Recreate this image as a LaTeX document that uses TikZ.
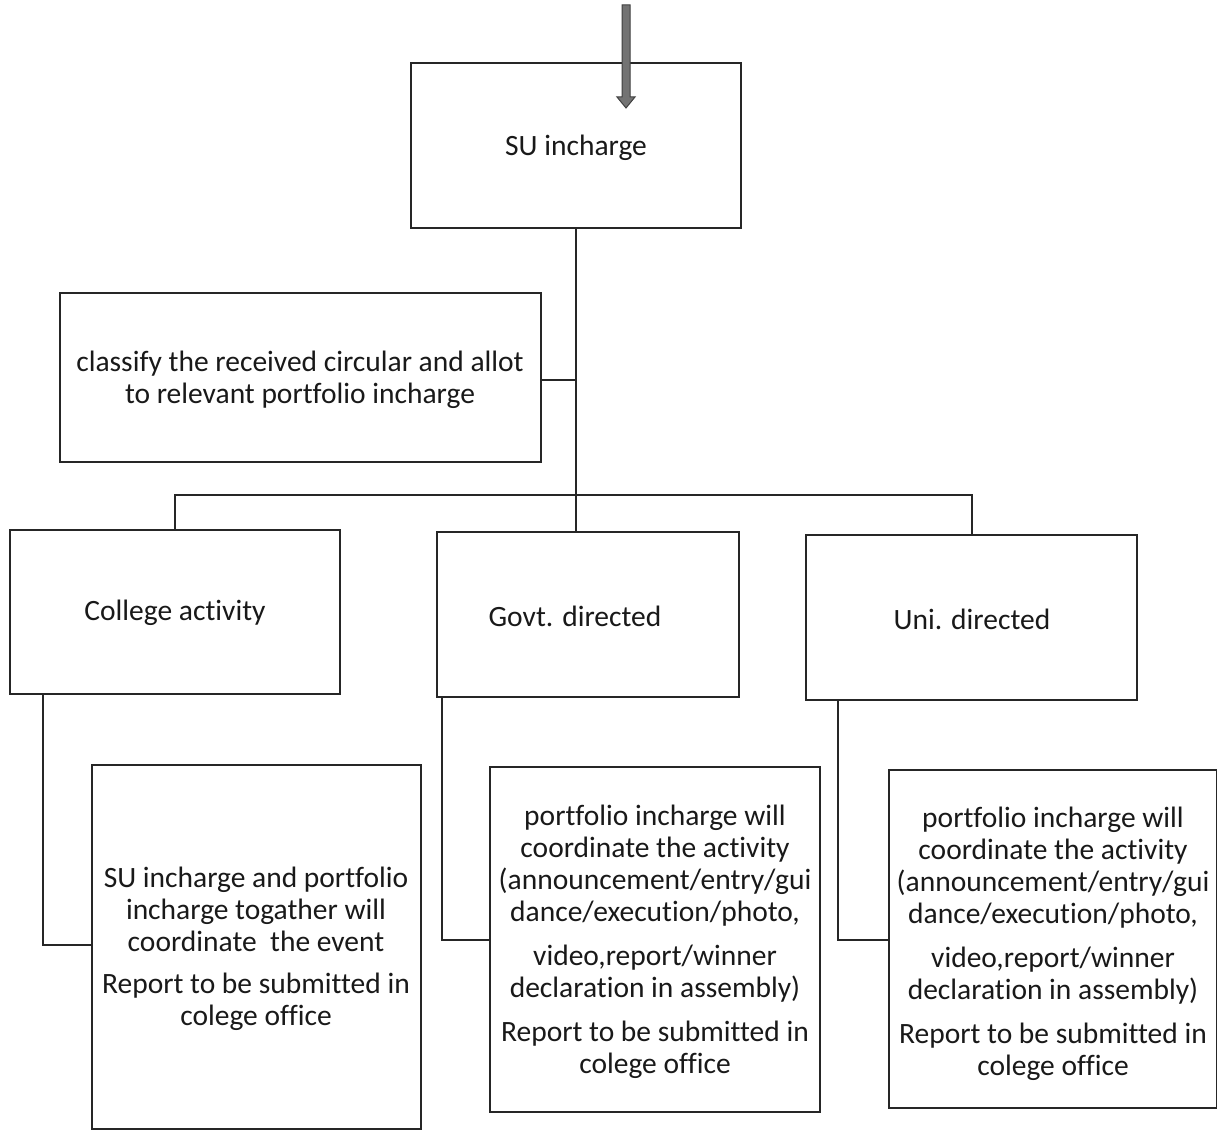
\documentclass[tikz,border=0pt]{standalone}
\usepackage{fontspec}
\setmainfont[Ligatures={NoCommon,NoContextual},RawFeature={-liga;-clig;-dlig;-calt}]{Carlito}
\usetikzlibrary{positioning}
\begin{document}
\begin{tikzpicture}[x=1pt,y=-1pt,
  box/.style={draw=black!85,line width=1.6pt,inner sep=0pt},
  conn/.style={draw=black!85,line width=1.6pt},
  lbl/.style={align=center,font=\fontsize{29.5}{32}\selectfont,text=black!90}]
\useasboundingbox[fill=white] (0,0) rectangle (1217,1129);
% boxes
\draw[box] (411,63) rectangle (741,228);
\coordinate (su) at (576,228);
\node[lbl] (sut) at (576,148) {SU incharge};
\draw[box] (60,293) rectangle (541,462);
\coordinate (clr) at (541,380);
\node[lbl] (cl) at (300,380) {classify the received circular and allot\\to relevant portfolio incharge};
\draw[box] (10,530) rectangle (340,694);
\node[lbl] (ca) at (175,613) {College activity};
\draw[box] (437,532) rectangle (739,697);
\node[lbl] (gd) at (575,616) {Govt. directed};
\draw[box] (806,535) rectangle (1137,700);
\node[lbl] (ud) at (972,619) {Uni. directed};
\draw[box] (92,765) rectangle (421,1129);
\node[lbl] (t1) at (256,949) {SU incharge and portfolio\\incharge togather will\\coordinate\ \ the event\\[10pt]Report to be submitted in\\colege office};
\draw[box] (490,767) rectangle (820,1112);
\node[lbl] (t2) at (655,942) {portfolio incharge will\\coordinate the activity\\(announcement/entry/gui\\dance/execution/photo,\\[12pt]video,report/winner\\declaration in assembly)\\[12pt]Report to be submitted in\\colege office};
\draw[box] (889,770) rectangle (1217,1108);
\node[lbl] (t3) at (1053,944) {portfolio incharge will\\coordinate the activity\\(announcement/entry/gui\\dance/execution/photo,\\[12pt]video,report/winner\\declaration in assembly)\\[12pt]Report to be submitted in\\colege office};
% connectors
\coordinate (j) at (576,495);
\coordinate (ml) at (576,380);
\draw[conn] (su) -- (j);
\draw[conn] (clr) -- (ml);
\draw[conn] (175,530) -- (175,495) -- (972,495) -- (972,535);
\draw[conn] (j) -- (576,532);
\draw[conn] (43,694) -- (43,945) -- (92,945);
\draw[conn] (442,697) -- (442,940) -- (490,940);
\draw[conn] (838,700) -- (838,940) -- (889,940);
% top arrow
\coordinate (in) at (626,5);
\filldraw[fill=black!55,draw=black!75,line width=1pt]
  ([xshift=-4]in) -- ++(0,92) -- ++(-5,0) -- (626,108) -- (635,97) -- ++(-5,0) -- ([xshift=4]in) -- cycle;
\end{tikzpicture}
\end{document}
